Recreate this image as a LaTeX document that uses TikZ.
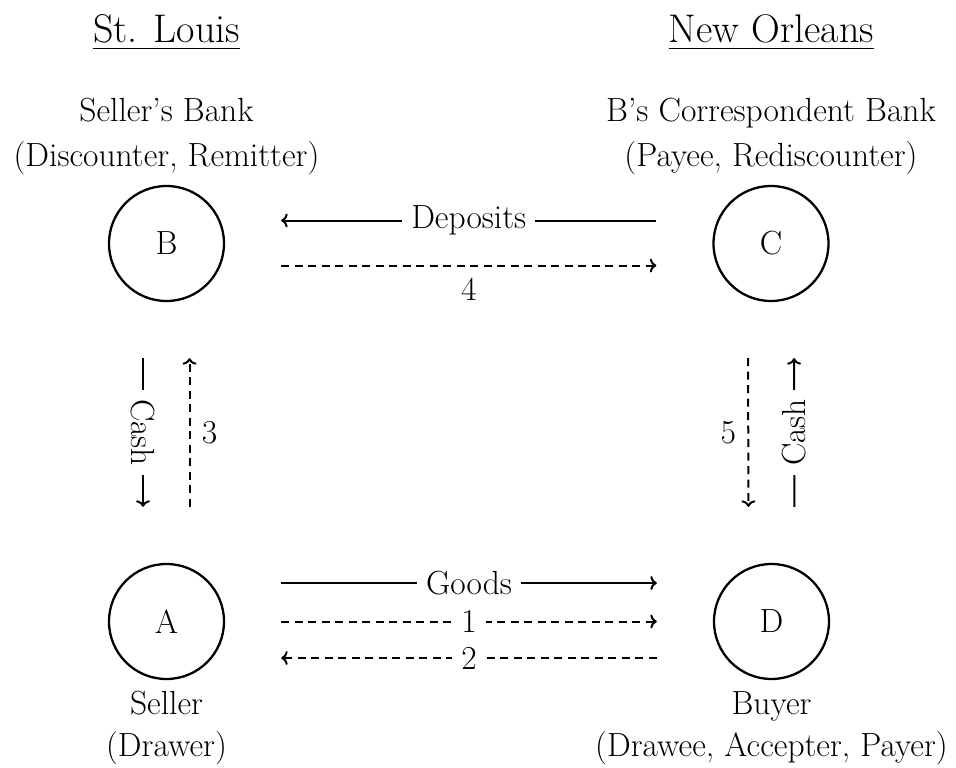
\documentclass[tikz,border=0pt]{standalone}
\usetikzlibrary{arrows.meta}
\newcommand{\dgbody}{\fontsize{33.5}{40}\selectfont}
\newcommand{\dgtitle}{\fontsize{40}{48}\selectfont}
\begin{document}
\begin{tikzpicture}[x=1pt,y=-1pt,
  >={To[length=6.5pt,width=14pt]},
  party/.style={circle, draw, line width=2.3pt, minimum size=115pt, inner sep=0pt, font=\dgbody},
  lbl/.style={anchor=base, inner sep=0pt, font=\dgbody},
  title/.style={anchor=base, inner sep=0pt, font=\dgtitle},
  flow/.style={line width=2pt, shorten <=56pt, shorten >=56pt},
  dflow/.style={flow, dash pattern=on 8pt off 5.5pt},
  tag/.style={midway, fill=white, inner xsep=9pt, inner ysep=2pt, font=\dgbody},
  num/.style={midway, inner sep=0pt, font=\dgbody}
]
% canvas
\fill[white] (0,0) rectangle (956,768);
\useasboundingbox (0,0) rectangle (956,768);

% city headings
\node[title] (stl) at (166.5,42.7) {St. Louis};
\node[title] (nol) at (771.5,42.7) {New Orleans};
\draw[line width=1.4pt] ([yshift=-5.8pt]stl.base west) -- ([yshift=-5.8pt]stl.base east);
\draw[line width=1.4pt] ([yshift=-5.8pt]nol.base west) -- ([yshift=-5.8pt]nol.base east);

% the four parties
\node[party] (B) at (166.5,243.5) {B};
\node[party] (C) at (771,243.5) {C};
\node[party] (A) at (166.5,621.5) {A};
\node[party] (D) at (771.5,621.5) {D};

% role labels
\node[lbl] (Bn) at (166.5,121.7) {Seller's Bank};
\node[lbl] (Br) at (166.5,166) {(Discounter, Remitter)};
\node[lbl] (Cn) at (771,121.7) {B's Correspondent Bank};
\node[lbl] (Cr) at (771,166) {(Payee, Rediscounter)};
\node[lbl] (An) at (166.5,714.5) {Seller};
\node[lbl] (Ar) at (166.5,756) {(Drawer)};
\node[lbl] (Dn) at (771.5,714.5) {Buyer};
\node[lbl] (Dr) at (771.5,756) {(Drawee, Accepter, Payer)};

% bank to bank
\draw[flow,->] ([yshift=23pt]C.west) -- ([yshift=23pt]B.east) node[tag] {Deposits};
\draw[dflow,->] ([yshift=-22pt]B.east) -- ([yshift=-22pt]C.west)
  node[num, anchor=base, yshift=-35pt] {4};

% seller and seller's bank
\draw[flow,->] ([xshift=-23.5pt]B.south) -- ([xshift=-23.5pt]A.north)
  node[tag, rotate=-90] {Cash};
\draw[dflow,->] ([xshift=23pt]A.north) -- ([xshift=23pt]B.south)
  node[num, xshift=20pt] {3};

% buyer and correspondent bank
\draw[dflow,->] ([xshift=-23pt]C.south) -- ([xshift=-23pt]D.north)
  node[num, xshift=-20pt] {5};
\draw[flow,->] ([xshift=23pt]D.north) -- ([xshift=23pt]C.south)
  node[tag, rotate=90] {Cash};

% seller and buyer
\draw[flow,->] ([yshift=38.5pt]A.east) -- ([yshift=38.5pt]D.west) node[tag] {Goods};
\draw[dflow,->] (A.east) -- (D.west) node[tag] {1};
\draw[dflow,->] ([yshift=-36.5pt]D.west) -- ([yshift=-36.5pt]A.east) node[tag] {2};
\end{tikzpicture}
\end{document}
